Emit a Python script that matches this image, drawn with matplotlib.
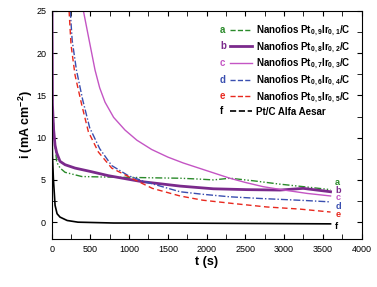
import matplotlib.pyplot as plt
from matplotlib.lines import Line2D
from matplotlib.text import Text
from matplotlib.legend_handler import HandlerBase
from matplotlib.ticker import MultipleLocator

plt.rcParams['font.family'] = 'Liberation Sans'
plt.rcParams['mathtext.fontset'] = 'custom'
plt.rcParams['mathtext.rm'] = 'Liberation Sans:bold'
plt.rcParams['mathtext.bf'] = 'Liberation Sans:bold'

# curves (t in s, i in mA cm-2)
t_a = [0, 10, 35, 65, 110, 173, 390, 650, 1000, 1300, 1657, 1900, 2087, 2302, 2600, 2946, 3300, 3600]
i_a = [25, 14, 10, 7.1, 6.4, 5.9, 5.4, 5.35, 5.3, 5.25, 5.2, 5.1, 5.0, 5.2, 4.9, 4.5, 4.15, 3.85]

t_b = [5, 10, 25, 44, 65, 108, 173, 302, 500, 733, 1162, 1657, 2087, 2517, 2946, 3247, 3600]
i_b = [25, 14, 11, 9.1, 8.2, 7.2, 6.8, 6.4, 6.0, 5.5, 4.8, 4.27, 3.95, 3.85, 3.8, 4.0, 3.6]

t_c = [410, 474, 560, 620, 689, 800, 947, 1100, 1291, 1500, 1700, 2000, 2300, 2500, 2730, 3000, 3300, 3600]
i_c = [25, 22.0, 18.0, 15.9, 14.2, 12.4, 10.9, 9.7, 8.6, 7.7, 7.0, 6.1, 5.2, 4.7, 4.2, 3.8, 3.4, 3.1]

t_d = [240, 265, 320, 400, 490, 620, 775, 990, 1200, 1657, 1950, 2302, 2700, 2946, 3300, 3600]
i_d = [25, 21.5, 18.0, 14.5, 11.2, 8.7, 6.7, 5.5, 4.8, 3.6, 3.3, 3.0, 2.8, 2.7, 2.55, 2.4]

t_e = [225, 250, 302, 388, 474, 603, 775, 1076, 1300, 1657, 1950, 2350, 2775, 3200, 3600]
i_e = [25, 21.0, 17.4, 13.9, 10.7, 8.3, 6.4, 5.0, 4.0, 3.1, 2.6, 2.2, 1.8, 1.55, 1.2]

t_f = [0, 10, 22, 44, 70, 108, 200, 340, 800, 1500, 2500, 3600]
i_f = [14, 8, 5.2, 2.0, 1.0, 0.6, 0.2, 0.0, -0.1, -0.1, -0.15, -0.2]

letters = ['a', 'b', 'c', 'd', 'e', 'f']
names = [r'Nanofios Pt$_{0,9}$Ir$_{0,1}$/C',
         r'Nanofios Pt$_{0,8}$Ir$_{0,2}$/C',
         r'Nanofios Pt$_{0,7}$Ir$_{0,3}$/C',
         r'Nanofios Pt$_{0,6}$Ir$_{0,4}$/C',
         r'Nanofios Pt$_{0,5}$Ir$_{0,5}$/C',
         'Pt/C Alfa Aesar']
colors = ['#2a8a2a', '#7b2a8c', '#c455c4', '#3a4fb0', '#e8281e', 'black']
styles = [(0, (5, 1.5, 1, 1.5, 1, 1.5)), '-', '-', (0, (5, 1.5, 1, 1.5)), (0, (4, 2.5)), '-']
widths = [1.0, 2.0, 1.0, 1.0, 1.0, 1.2]
end_y = [4.75, 3.8, 2.9, 1.9, 0.9, -0.5]


class LetterLine(HandlerBase):
    """Legend handle drawn as: coloured letter, then the line sample."""
    def __init__(self, letter, color):
        super().__init__()
        self.letter = letter
        self.color = color

    def create_artists(self, legend, orig_handle, xdescent, ydescent,
                       width, height, fontsize, trans):
        y = height / 2 - ydescent
        x0 = -xdescent
        txt = Text(x0, y, self.letter, color=self.color, fontsize=fontsize,
                   fontweight='bold', ha='left', va='center', transform=trans)
        ln = Line2D([x0 + 0.32 * width, x0 + width], [y, y],
                    color=orig_handle.get_color(), linestyle=orig_handle.get_linestyle(),
                    linewidth=orig_handle.get_linewidth(), transform=trans)
        return [txt, ln]


fig = plt.figure(figsize=(3.77, 2.87), dpi=100)
ax = fig.add_axes([0.137, 0.167, 0.822, 0.795])

series = [(t_a, i_a), (t_b, i_b), (t_c, i_c), (t_d, i_d), (t_e, i_e), (t_f, i_f)]
for (t, i), c, ls, lw in zip(series, colors, styles, widths):
    ax.plot(t, i, color=c, linestyle=ls, linewidth=lw)

for L, c, y in zip(letters, colors, end_y):
    ax.text(3660, y, L, color=c, fontsize=6.6, fontweight='bold', ha='left', va='center')

ax.set_xlim(0, 4000)
ax.set_ylim(-2, 25)
ax.xaxis.set_major_locator(MultipleLocator(500))
ax.xaxis.set_minor_locator(MultipleLocator(250))
ax.yaxis.set_major_locator(MultipleLocator(5))
ax.yaxis.set_minor_locator(MultipleLocator(2.5))
ax.tick_params(which='both', direction='in', top=True, right=True, labelsize=6.5, pad=4)
ax.tick_params(which='both', length=3.5)
ax.set_xlabel('t (s)', fontsize=9, fontweight='bold', labelpad=2)
ax.set_ylabel(r'i (mA cm$^{\mathbf{-2}}$)', fontsize=9, fontweight='bold', labelpad=1)

# legend (Pt/C sample drawn dashed, as in the original)
leg_styles = styles[:5] + [(0, (3, 2))]
handles = [Line2D([], [], color=c, linestyle=ls, linewidth=lw)
           for c, ls, lw in zip(colors, leg_styles, widths)]
hmap = {h: LetterLine(L, c) for h, L, c in zip(handles, letters, colors)}
leg = ax.legend(handles, names, handler_map=hmap, loc='upper left',
                bbox_to_anchor=(0.543, 0.945), frameon=False, fontsize=7,
                handlelength=3.3, handletextpad=0.45, labelspacing=0.2,
                borderpad=0, borderaxespad=0)
for txt in leg.get_texts():
    txt.set_fontweight('bold')

fig.savefig('out.png', dpi=100)
